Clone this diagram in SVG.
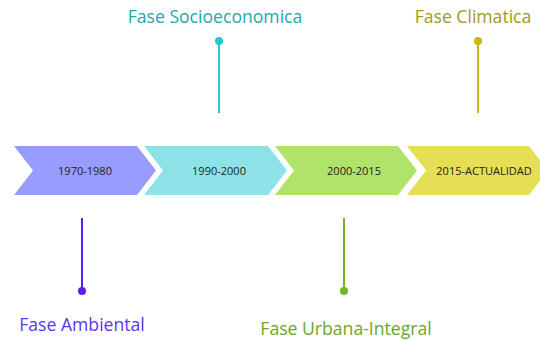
<svg xmlns="http://www.w3.org/2000/svg" width="540" height="340" viewBox="0 0 540 340">
<style>
.yr{font-family:"Open Sans","Liberation Sans",sans-serif;font-size:11px;fill:#222;text-anchor:middle}
.lbl{font-family:"Open Sans","Liberation Sans",sans-serif;font-size:17.6px;text-anchor:middle}
.ln{stroke-width:2;fill:none}
</style>
<rect width="540" height="340" fill="#fff"/>
<g id="chevron1"><polygon points="14,146 137,146 156,170.5 137,195 14,195 33,170.5" fill="#989cfd"/><text class="yr" x="85" y="174.5">1970-1980</text></g>
<g id="chevron2"><polygon points="144,146 268,146 287,170.5 268,195 144,195 163,170.5" fill="#8ce2e7"/><text class="yr" x="219" y="174.5">1990-2000</text></g>
<g id="chevron3"><polygon points="275,146 398,146 417,170.5 398,195 275,195 294,170.5" fill="#b0e36a"/><text class="yr" x="354" y="174.5">2000-2015</text></g>
<g id="chevron4"><polygon points="407,146 529,146 548,170.5 529,195 407,195 426,170.5" fill="#e6df55"/><text class="yr" x="484" y="174.5">2015-ACTUALIDAD</text></g>
<g id="connectors">
<line class="ln" x1="219" y1="41" x2="219" y2="113" stroke="#1fc9d1"/><circle cx="219" cy="41" r="4" fill="#1fc9d1"/>
<line class="ln" x1="478" y1="41" x2="478" y2="113" stroke="#c9b71f"/><circle cx="478" cy="41" r="4" fill="#c9b71f"/>
<line class="ln" x1="82" y1="218" x2="82" y2="291" stroke="#5522f0"/><circle cx="82" cy="291" r="4" fill="#5522f0"/>
<line class="ln" x1="344" y1="218" x2="344" y2="291" stroke="#74b823"/><circle cx="344" cy="291" r="4" fill="#74b823"/>
</g>
<g id="phase-socio"><text class="lbl" x="215" y="23" fill="#1fa8a8">Fase Socioeconomica</text></g>
<g id="phase-clima"><text class="lbl" x="473" y="23" fill="#a39a20">Fase Climatica</text></g>
<g id="phase-amb"><text class="lbl" x="82" y="331" fill="#5a35f2">Fase Ambiental</text></g>
<g id="phase-urb"><text class="lbl" x="346" y="335" fill="#6aa82a">Fase Urbana-Integral</text></g>
</svg>
